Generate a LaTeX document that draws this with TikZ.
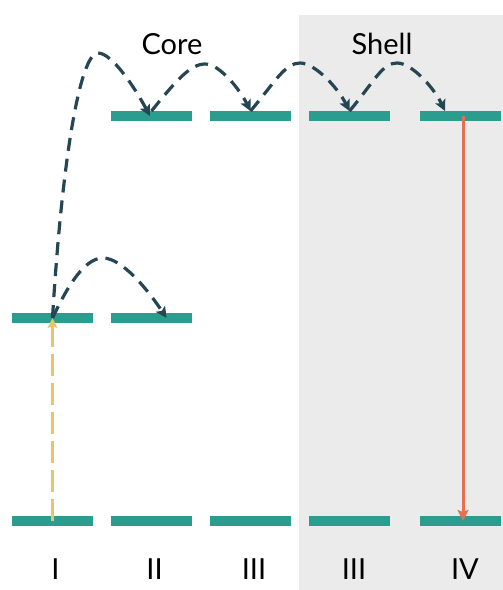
\documentclass[tikz,border=0pt]{standalone}
\usepackage{fontspec}
\setmainfont{Lato}
\usetikzlibrary{arrows.meta}

\definecolor{levelteal}{HTML}{2A9D8F}
\definecolor{hopslate}{HTML}{264653}
\definecolor{emitred}{HTML}{E76F51}
\definecolor{absorbyellow}{HTML}{E9C46A}
\definecolor{shellgrey}{HTML}{EBEBEB}

\begin{document}
\begin{tikzpicture}[x=1pt,y=-1pt,
  level/.style={fill=levelteal, draw=none, minimum width=81pt, minimum height=10pt,
                inner sep=0pt, outer sep=0pt},
  hop/.style={draw=hopslate, line width=3.2pt, dash pattern=on 13pt off 8pt,
              -{Stealth[length=11pt,width=11pt,inset=2.5pt]}},
  absorb/.style={draw=absorbyellow, line width=3pt, dash pattern=on 22pt off 7pt,
                 -{Stealth[length=10pt,width=10pt,inset=2pt]}},
  emit/.style={draw=emitred, line width=3pt,
               -{Stealth[length=11pt,width=11pt,inset=2pt]}},
  lbl/.style={font=\fontsize{29}{32}\selectfont, text=black, inner sep=0pt}
]
\useasboundingbox (0,0) rectangle (503,590);

% shell region
\fill[shellgrey] (299,15) rectangle (503,590);

% energy levels: top row
\node[level] (t2) at (151.5,116) {};
\node[level] (t3) at (250.5,116) {};
\node[level] (t4) at (349.5,116) {};
\node[level] (t5) at (460,116) {};
% middle row
\node[level] (m1) at (52.5,318) {};
\node[level] (m2) at (151.5,318) {};
% bottom row
\node[level] (b1) at (52.5,521) {};
\node[level] (b2) at (151.5,521) {};
\node[level] (b3) at (250.5,521) {};
\node[level] (b4) at (349.5,521) {};
\node[level] (b5) at (460,521) {};

% apex points of the hopping arcs
\coordinate (k0) at (98,53);
\coordinate (k1) at (103,258);
\coordinate (k2) at (205,64);
\coordinate (k3) at (300,63);
\coordinate (k4) at (397,63);

% absorption
\draw[absorb] (b1.center) -- (m1.center);

% emission
\draw[emit] ([xshift=3pt]t5.center) -- ([xshift=3pt]b5.center);

% hopping transfer
\draw[hop] (m1.center) .. controls (62,160) and (80,53) .. (k0)
           .. controls (112,53) and (135,88) .. ([xshift=-1.5pt]t2.center);
\draw[hop] (m1.center) .. controls (68,285) and (85,258) .. (k1)
           .. controls (122,258) and (148,290) .. ([xshift=15pt]m2.center);
\draw[hop] (t2.north) .. controls (175,82) and (190,64) .. (k2)
           .. controls (220,64) and (240,90) .. (t3.north);
\draw[hop] (t3.north) .. controls (275,82) and (285,63) .. (k3)
           .. controls (315,63) and (338,88) .. (t4.north);
\draw[hop] (t4.north) .. controls (374,82) and (382,63) .. (k4)
           .. controls (412,63) and (434,88) .. ([xshift=-15pt]t5.north);

% headings
\node[lbl] (core) at (172,44) {Core};
\node[lbl] (shell) at (382,44) {Shell};

% site labels
\node[lbl] (n1) at (55.5,569) {I};
\node[lbl] (n2) at (154.5,569) {II};
\node[lbl] (n3) at (254,569) {III};
\node[lbl] (n4) at (354,569) {III};
\node[lbl] (n5) at (465,569) {IV};
\end{tikzpicture}
\end{document}
